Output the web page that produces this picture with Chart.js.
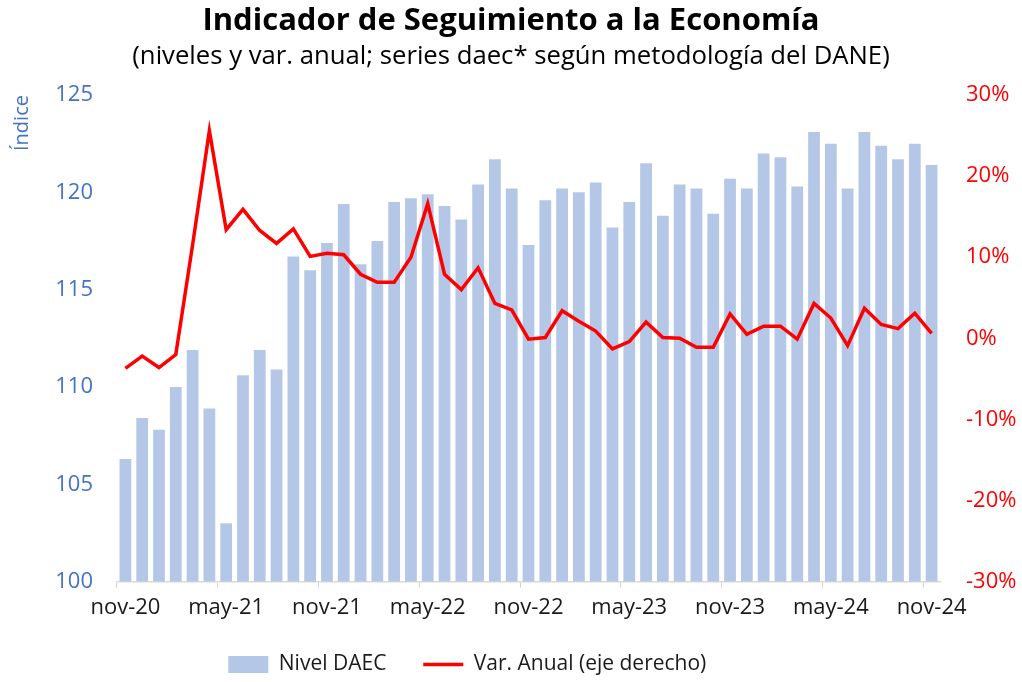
<!DOCTYPE html>
<html>
<head>
<meta charset="utf-8">
<script src="https://cdn.jsdelivr.net/npm/chart.js@4.4.1/dist/chart.umd.min.js"></script>
<style>
  body { margin: 0; background: #fff; }
  #wrap { width: 1022px; height: 682px; }
</style>
</head>
<body>
<div id="wrap"><canvas id="myChart"></canvas></div>
<script>
const meses = [
  'nov-20', 'dic-20', 'ene-21', 'feb-21', 'mar-21', 'abr-21', 'may-21', 'jun-21', 'jul-21', 'ago-21', 'sep-21', 'oct-21',
  'nov-21', 'dic-21', 'ene-22', 'feb-22', 'mar-22', 'abr-22', 'may-22', 'jun-22', 'jul-22', 'ago-22', 'sep-22', 'oct-22',
  'nov-22', 'dic-22', 'ene-23', 'feb-23', 'mar-23', 'abr-23', 'may-23', 'jun-23', 'jul-23', 'ago-23', 'sep-23', 'oct-23',
  'nov-23', 'dic-23', 'ene-24', 'feb-24', 'mar-24', 'abr-24', 'may-24', 'jun-24', 'jul-24', 'ago-24', 'sep-24', 'oct-24',
  'nov-24'
];

// nivel del indice (eje izquierdo)
const nivelDaec = [
  106.3, 108.4, 107.8, 110.0, 111.9, 108.9, 103.0, 110.6, 111.9, 110.9, 116.7, 116.0,
  117.4, 119.4, 116.3, 117.5, 119.5, 119.7, 119.9, 119.3, 118.6, 120.4, 121.7, 120.2,
  117.3, 119.6, 120.2, 120.0, 120.5, 118.2, 119.5, 121.5, 118.8, 120.4, 120.2, 118.9,
  120.7, 120.2, 122.0, 121.8, 120.3, 123.1, 122.5, 120.2, 123.1, 122.4, 121.7, 122.5,
  121.4
];

// variacion anual en % (eje derecho)
const varAnual = [
  -3.7, -2.2, -3.6, -2.0, 11.5, 25.6, 13.4, 15.9, 13.3, 11.7, 13.5, 10.1,
  10.5, 10.3, 7.9, 6.9, 6.9, 10.0, 16.6, 7.9, 6.0, 8.7, 4.3, 3.5,
  -0.1, 0.1, 3.4, 2.1, 0.9, -1.3, -0.4, 2.0, 0.1, 0.0, -1.1, -1.1,
  3.0, 0.5, 1.5, 1.5, -0.1, 4.3, 2.5, -0.9, 3.7, 1.7, 1.2, 3.1,
  0.6
];

const ejeIzq = { min: 100, max: 125, paso: 5 };
const ejeDer = { min: -30, max: 30, paso: 10 };

const azul = '#4472C4';
const rojo = '#FF0000';
const fuente = "'Open Sans', sans-serif";

const ctx = document.getElementById('myChart');

new Chart(ctx, {
  type: 'bar',
  data: {
    labels: meses,
    datasets: [{
      label: 'Nivel DAEC',
      data: nivelDaec,
      backgroundColor: '#B4C7E7',
      borderWidth: 0,
      barPercentage: 0.7,
      categoryPercentage: 1,
      yAxisID: 'y',
      order: 1,
      pointStyle: 'rect'
    }, {
      type: 'line',
      label: 'Var. Anual (eje derecho)',
      data: varAnual,
      borderColor: rojo,
      backgroundColor: rojo,
      borderWidth: 3.5,
      pointRadius: 0,
      tension: 0,
      yAxisID: 'y1',
      order: 0,
      pointStyle: 'line'
    }]
  },
  options: {
    responsive: true,
    maintainAspectRatio: false,
    animation: false,
    layout: { padding: { left: 0, right: 0, top: 0, bottom: -3 } },
    scales: {
      x: {
        offset: true,
        grid: {
          offset: true,
          drawOnChartArea: false,
          drawTicks: true,
          tickLength: 6,
          color: (c) => (c.index % 6 === 0 ? '#D0D0D0' : 'rgba(0,0,0,0)')
        },
        border: { display: true, color: '#D9D9D9', width: 1.5 },
        ticks: {
          autoSkip: false,
          maxRotation: 0,
          padding: 7,
          color: '#1a1a1a',
          font: { family: fuente, size: 22 },
          callback: (v, i) => (i % 6 === 0 ? meses[i] : '')
        }
      },
      y: {
        position: 'left',
        min: ejeIzq.min,
        max: ejeIzq.max,
        grid: { display: false, drawTicks: false },
        border: { display: false },
        ticks: {
          stepSize: ejeIzq.paso,
          padding: 24,
          color: azul,
          font: { family: fuente, size: 22 }
        },
        title: {
          display: true,
          text: 'Índice',
          align: 'end',
          color: azul,
          padding: { top: 10, bottom: 0 },
          font: { family: fuente, size: 20 }
        },
        afterFit: (s) => { s.width = 117; }
      },
      y1: {
        position: 'right',
        min: ejeDer.min,
        max: ejeDer.max,
        grid: { display: false, drawTicks: false },
        border: { display: false },
        ticks: {
          stepSize: ejeDer.paso,
          padding: 26,
          color: rojo,
          font: { family: fuente, size: 22 },
          callback: (v) => v + '%'
        },
        afterFit: (s) => { s.width = 82; }
      }
    },
    plugins: {
      title: {
        display: true,
        text: 'Indicador de Seguimiento a la Economía',
        color: '#000',
        font: { family: fuente, size: 31, weight: 'bold' },
        padding: { top: 3, bottom: 0 }
      },
      subtitle: {
        display: true,
        text: '(niveles y var. anual; series daec* según metodología del DANE)',
        color: '#000',
        font: { family: fuente, size: 25.7 },
        padding: { top: 1.4, bottom: 22.6 }
      },
      legend: {
        position: 'bottom',
        labels: {
          usePointStyle: true,
          pointStyleWidth: 40,
          boxHeight: 17,
          padding: 26,
          color: '#1a1a1a',
          font: { family: fuente, size: 21 },
          generateLabels: (chart) => {
            const items = Chart.defaults.plugins.legend.labels.generateLabels(chart);
            items.sort((a, b) => a.datasetIndex - b.datasetIndex);
            items[0].text += '  ';
            // hueco vacio para desplazar la leyenda a la izquierda como en el original
            items.push({ text: '  ', fillStyle: 'rgba(0,0,0,0)', strokeStyle: 'rgba(0,0,0,0)', lineWidth: 0, pointStyle: 'rect', hidden: false });
            return items;
          }
        }
      },
      tooltip: { enabled: false }
    }
  }
});
</script>
</body>
</html>
